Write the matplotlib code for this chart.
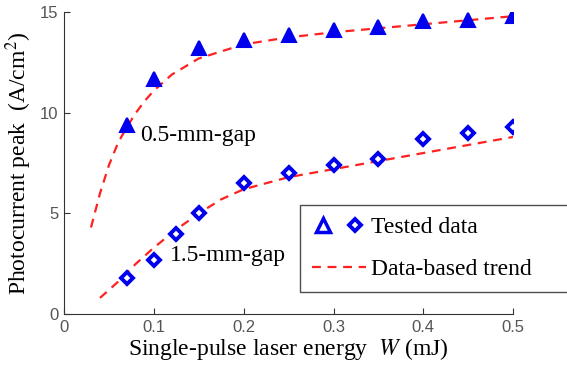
import matplotlib
matplotlib.use("Agg")
import matplotlib.pyplot as plt
from matplotlib.lines import Line2D
from matplotlib.legend_handler import HandlerTuple

# Data
w_tested = [0.07, 0.1, 0.15, 0.2, 0.25, 0.3, 0.35, 0.4, 0.45, 0.5]
peak_05 = [9.4, 11.7, 13.2, 13.6, 13.85, 14.1, 14.25, 14.55, 14.6, 14.8]
w_tested_15 = [0.07, 0.1, 0.125, 0.15, 0.2, 0.25, 0.3, 0.35, 0.4, 0.45, 0.5]
peak_15 = [1.8, 2.7, 4.0, 5.0, 6.5, 7.0, 7.4, 7.7, 8.7, 9.0, 9.3]

w_trend_05 = [0.03, 0.04, 0.05, 0.06, 0.07, 0.08, 0.09, 0.1, 0.12, 0.15, 0.2, 0.25, 0.3, 0.35, 0.4, 0.45, 0.5]
trend_05 = [4.3, 6.0, 7.4, 8.5, 9.3, 10.0, 10.6, 11.1, 11.9, 12.7, 13.4, 13.75, 14.0, 14.2, 14.4, 14.6, 14.8]
w_trend_15 = [0.04, 0.06, 0.08, 0.1, 0.125, 0.15, 0.175, 0.2, 0.25, 0.3, 0.35, 0.4, 0.45, 0.5]
trend_15 = [0.8, 1.6, 2.5, 3.3, 4.2, 5.0, 5.7, 6.2, 6.8, 7.2, 7.6, 8.0, 8.4, 8.8]

xticks = [0, 0.1, 0.2, 0.3, 0.4, 0.5]
xticklabels = ["0", "0.1", "0.2", "0.3", "0.4", "0.5"]
yticks = [0, 5, 10, 15]

serif = "Liberation Serif"
sans = "Liberation Sans"
plt.rcParams["mathtext.fontset"] = "stix"

fig = plt.figure(figsize=(5.67, 3.69), dpi=100)
ax = fig.add_axes([0.113, 0.149, 0.792, 0.818])

ax.plot(w_trend_05, trend_05, "--", color="#ff2020", lw=1.6, dashes=(4, 3))
ax.plot(w_trend_15, trend_15, "--", color="#ff2020", lw=1.6, dashes=(4, 3))
ax.plot(w_tested, peak_05, "^", color="#0000ee", ms=10, mec="#0000ee", mew=1.5, ls="none")
ax.plot(w_tested_15, peak_15, "D", ms=6, mfc="white", mec="#0000ee", mew=2.8, ls="none")

ax.set_xlim(0, 0.5)
ax.set_ylim(0, 15)
ax.set_xticks(xticks)
ax.set_xticklabels(xticklabels)
ax.set_yticks(yticks)
for s in ["top", "right"]:
    ax.spines[s].set_visible(False)
for s in ["left", "bottom"]:
    ax.spines[s].set_color("#333333")
    ax.spines[s].set_linewidth(0.8)
ax.tick_params(direction="in", length=4, width=0.8, colors="#333333", labelsize=12, pad=4)
for lab in ax.get_xticklabels() + ax.get_yticklabels():
    lab.set_fontfamily(sans)
    lab.set_color("#555555")

ax.set_xlabel("Single-pulse laser energy  $W$ (mJ)", fontfamily=serif, fontsize=17, labelpad=1)
ax.set_ylabel("Photocurrent peak  (A/cm$^2$)", fontfamily=serif, fontsize=17, labelpad=4)

ax.text(0.085, 8.85, "0.5-mm-gap", fontfamily=serif, fontsize=17, va="center")
ax.text(0.118, 2.93, "1.5-mm-gap", fontfamily=serif, fontsize=17, va="center")

h_tri = Line2D([], [], marker="^", ls="none", ms=10, mfc="white", mec="#0000ee", mew=2.5)
h_dia = Line2D([], [], marker="D", ls="none", ms=6.5, mfc="white", mec="#0000ee", mew=2.8)
h_line = Line2D([], [], ls="--", color="#ff2020", lw=1.6, dashes=(4, 3))
leg = ax.legend([(h_tri, h_dia), h_line], ["Tested data", "Data-based trend"],
                handler_map={tuple: HandlerTuple(ndivide=None, pad=0.4)},
                loc="upper left", bbox_to_anchor=(300 / 567, 1 - 205 / 369, 0.6, 0.0),
                mode="expand",
                bbox_transform=fig.transFigure, prop={"family": serif, "size": 17},
                frameon=True, fancybox=False, borderpad=0.5, labelspacing=0.85,
                handlelength=2.3, handletextpad=0.2, borderaxespad=0)
leg.get_frame().set_edgecolor("#222222")
leg.get_frame().set_linewidth(1.0)

fig.savefig("out.png", dpi=100)
